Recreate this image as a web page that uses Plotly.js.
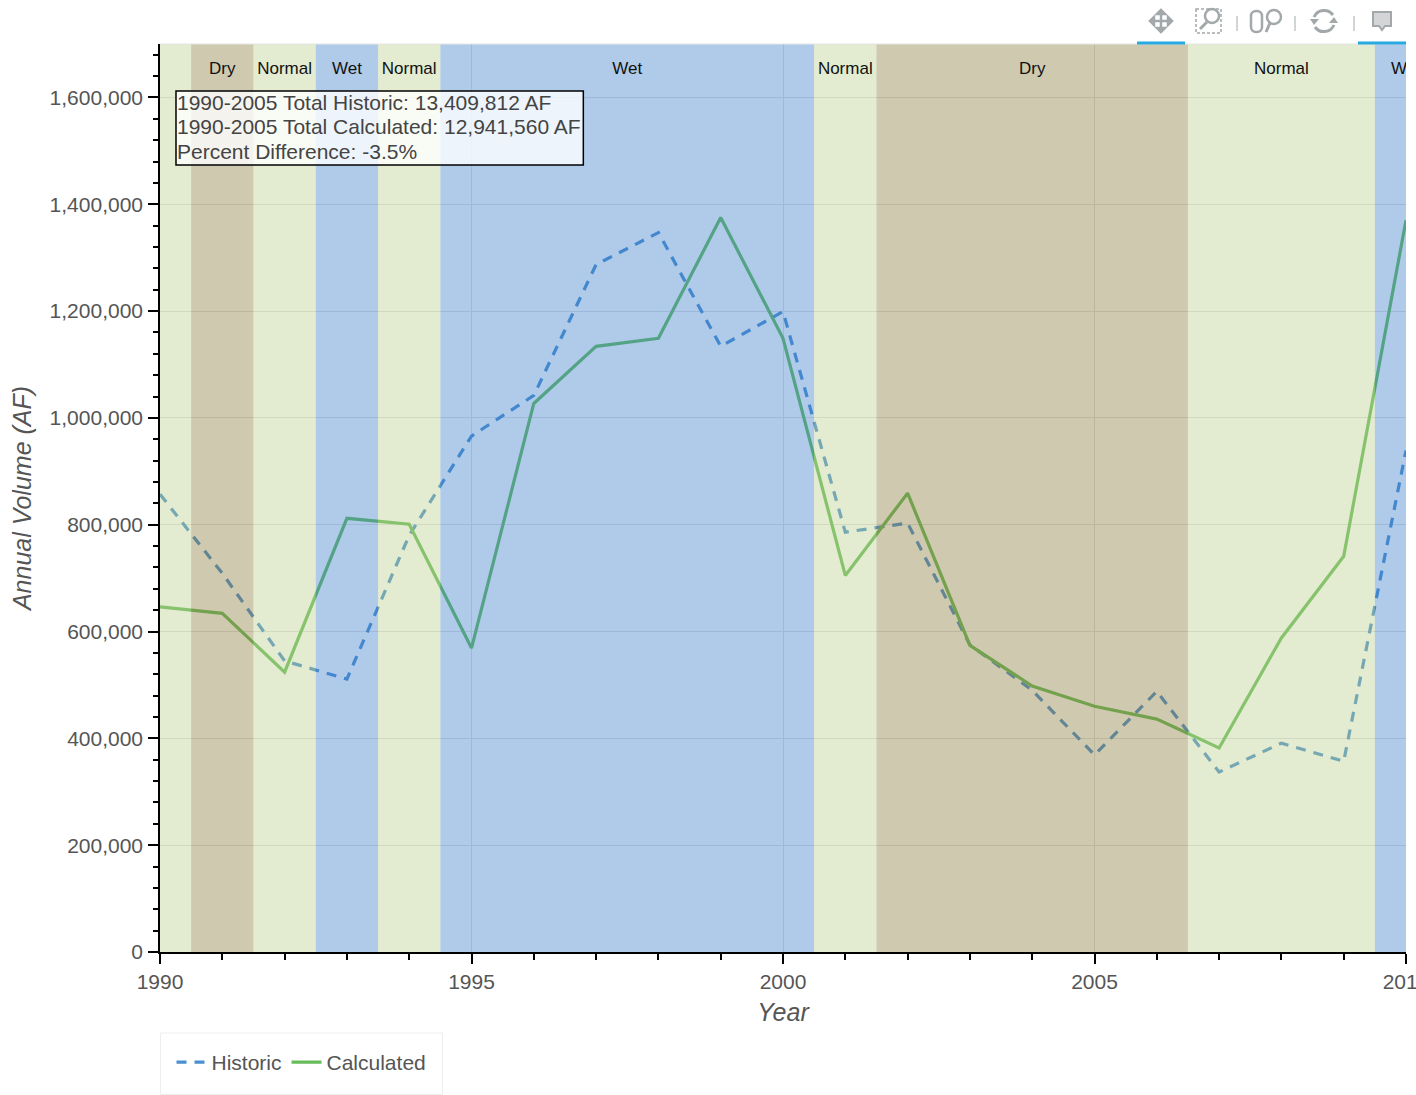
<!DOCTYPE html>
<html><head><meta charset="utf-8">
<script src="https://cdn.plot.ly/plotly-3.0.1.min.js"></script>
<style>html,body{margin:0;padding:0;background:#fff;overflow:hidden}#wrap{position:relative;width:1416px;height:1095px;overflow:hidden}#chart{position:absolute;left:0;top:0;width:1460px;height:1095px}#tb{position:absolute;left:0;top:0;pointer-events:none}</style>
</head><body><div id="wrap"><div id="chart"></div>
<svg id="tb" width="1416" height="46" fill="none" stroke="#a3a8aa">
<g stroke-width="2.5"><path d="M1150 21h22M1161 10v22"/><path d="M1150 21l4-4v8zM1172 21l-4-4v8zM1161 10l-4 4h8zM1161 32l-4-4h8z" fill="#a3a8aa"/></g>
<rect x="1196" y="9" width="25" height="24" stroke-width="1.5" stroke-dasharray="3 2"/><circle cx="1212" cy="16" r="7" stroke-width="2.5" fill="#fff"/><path d="M1207 22l-7 7" stroke-width="3"/>
<rect x="1251" y="11" width="11" height="21" rx="5" stroke-width="2.5"/><circle cx="1274" cy="17" r="7" stroke-width="2.5"/><path d="M1270 23l-4 9" stroke-width="3"/>
<path d="M1314 17a11 11 0 0 1 19-2M1334 25a11 11 0 0 1-19 2" stroke-width="3"/><path d="M1310 19h9l-5 6zM1338 23h-9l5-6z" fill="#a3a8aa" stroke="none"/>
<path d="M1373 12h18v14h-6l-3 4-3-4h-6z" stroke-width="2" fill="#d3d5d6"/>
<path d="M1237 16v15M1295 16v15M1354 16v15" stroke-width="1.5" stroke="#c4c7c8"/>
<path d="M1137 43h48M1358 43h48" stroke="#26aae1" stroke-width="3"/>
</svg></div>
<script>
const years=[1990,1991,1992,1993,1994,1995,1996,1997,1998,1999,2000,2001,2002,2003,2004,2005,2006,2007,2008,2009,2010];
const historic=[857000,709000,545000,511000,780000,966000,1042000,1287000,1347000,1134000,1199000,786000,803000,575000,490000,369000,488000,337000,391000,357000,939000];
const calculated=[646000,634000,524000,812000,801000,569000,1027000,1134000,1149000,1375000,1149000,705000,859000,574000,498000,460000,436000,382000,588000,741000,1370000];
const bandStart=[1989.5,1990.5,1991.5,1992.5,1993.5,1994.5,2000.5,2001.5,2006.5,2009.5];
const bandEnd=[1990.5,1991.5,1992.5,1993.5,1994.5,2000.5,2001.5,2006.5,2009.5,2010.5];
const bandType=['Normal','Dry','Normal','Wet','Normal','Wet','Normal','Dry','Normal','Wet'];
const bandColors={Normal:'rgba(185,205,138,0.4)',Dry:'rgba(135,120,57,0.4)',Wet:'rgba(57,125,202,0.4)'};
const labelX=[1991,1992,1993,1994,1997.5,2001,2004,2008,2010];
const labelText=['Dry','Normal','Wet','Normal','Wet','Normal','Dry','Normal','Wet'];
const labelY=1652000;
const yMax=1700000;
const xRange=[1990,2010];
const yTicks=[0,200000,400000,600000,800000,1000000,1200000,1400000,1600000];
const xTicks=[1990,1995,2000,2005,2010];
const note=['1990-2005 Total Historic: 13,409,812 AF','1990-2005 Total Calculated: 12,941,560 AF','Percent Difference: -3.5%'];

const font='"Liberation Sans",Arial,sans-serif';
const plotH=908;
const traces=[
 {type:'scatter',mode:'lines',name:'Historic',x:years,y:historic,line:{color:'#4a8fd0',width:3.2,dash:'10px,8px'},hoverinfo:'skip'},
 {type:'scatter',mode:'lines',name:'Calculated',x:years,y:calculated,line:{color:'#66bd5a',width:3.2},hoverinfo:'skip'},
 {type:'bar',xaxis:'x2',yaxis:'y2',showlegend:false,hoverinfo:'skip',
  x:bandStart.map((s,i)=>(s+bandEnd[i])/2),width:bandStart.map((s,i)=>bandEnd[i]-s),y:bandStart.map(()=>yMax),
  marker:{color:bandType.map(t=>bandColors[t]),line:{width:0}}},
 {type:'scatter',mode:'text',xaxis:'x2',yaxis:'y2',showlegend:false,hoverinfo:'skip',x:labelX,y:labelX.map(()=>labelY),text:labelText,textposition:'middle center',textfont:{family:font,size:17,color:'#111'},cliponaxis:true}
];
const noteAnn=note.map((t,i)=>({xref:'paper',yref:'paper',x:16.5/1246.5,y:(952-(102.5+24.5*i))/plotH,xanchor:'left',yanchor:'middle',align:'left',showarrow:false,text:t,font:{family:font,size:21,color:'#444'},borderpad:0}));
const layout={
 width:1460,height:1095,autosize:false,paper_bgcolor:'#fff',plot_bgcolor:'#fff',font:{family:font,color:'#444'},
 margin:{l:159.5,r:54,t:44,b:143,pad:0},barmode:'overlay',showlegend:true,
 xaxis:{range:xRange,tickvals:xTicks,ticktext:xTicks.map(String),ticks:'outside',ticklen:10,tickwidth:1.5,tickcolor:'#000',showline:true,linecolor:'#000',linewidth:1.5,showgrid:true,gridcolor:'#e2e2e2',gridwidth:1,zeroline:false,tickfont:{size:21,color:'#555'},
  minor:{dtick:1,tick0:1990,ticks:'outside',ticklen:6,tickwidth:1.5,tickcolor:'#000',showgrid:false},
  title:{text:'<i>Year</i>',font:{size:25,color:'#555'},standoff:12}},
 yaxis:{range:[0,yMax],tickvals:yTicks,ticktext:yTicks.map(v=>v.toLocaleString('en-US')),ticks:'outside',ticklen:10,tickwidth:1.5,tickcolor:'#000',showline:true,linecolor:'#000',linewidth:1.5,showgrid:true,gridcolor:'#e2e2e2',gridwidth:1,zeroline:false,ticklabelstandoff:1,tickfont:{size:21,color:'#555'},
  minor:{dtick:40000,tick0:0,ticks:'outside',ticklen:5,tickwidth:1.5,tickcolor:'#000',showgrid:false},
  title:{text:'<i>Annual Volume (AF)</i>',font:{size:25,color:'#555'},standoff:11}},
 xaxis2:{range:xRange,overlaying:'x',visible:false,anchor:'y2'},
 yaxis2:{range:[0,yMax],overlaying:'y',visible:false,anchor:'x2'},
 legend:{orientation:'h',x:11.5/1246.5,xanchor:'left',y:-0.0992,yanchor:'top',bgcolor:'rgba(0,0,0,0)',borderwidth:0,font:{size:21,color:'#555'},itemwidth:30},
 shapes:[
  {type:'line',xref:'paper',yref:'paper',x0:0,x1:1,y0:1,y1:1,line:{color:'#e5e5e5',width:1}},
  {type:'rect',xref:'paper',yref:'paper',x0:16/1246.5,x1:423.5/1246.5,y0:(952-165)/plotH,y1:(952-91)/plotH,line:{color:'#000',width:1.5},fillcolor:'rgba(255,255,255,0.78)',layer:'above'},
  {type:'rect',xref:'paper',yref:'paper',x0:0.5/1246.5,x1:282.5/1246.5,y0:(952-1094.5)/plotH,y1:(952-1033)/plotH,line:{color:'#eeeeee',width:1},fillcolor:'rgba(0,0,0,0)'}
 ],
 annotations:noteAnn
};
Plotly.newPlot('chart',traces,layout,{displayModeBar:false,responsive:false});
</script></body></html>
